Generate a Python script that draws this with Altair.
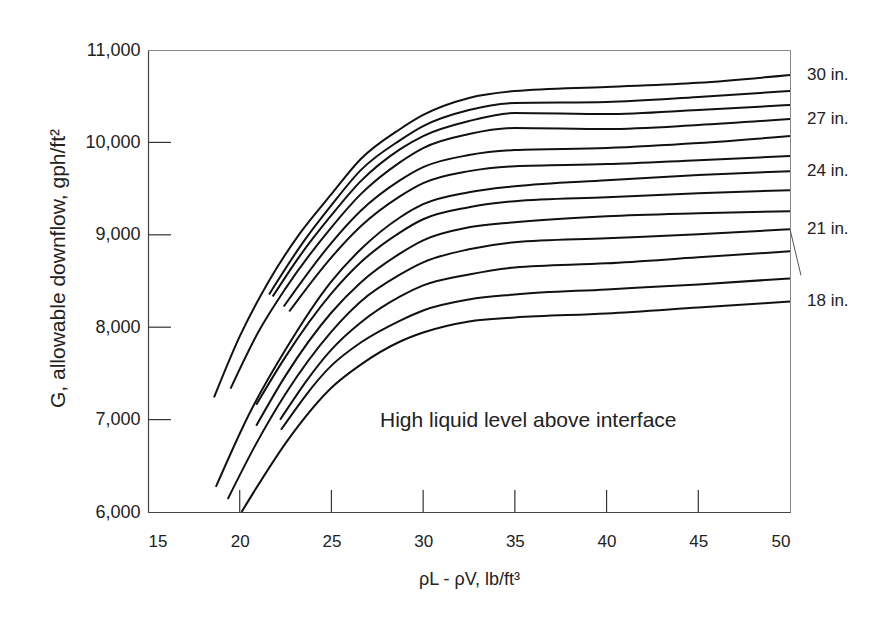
import altair as alt
import pandas as pd

# ---- data ----
# x = rho_L - rho_V (lb/ft3), G = allowable downflow (gph/ft2), one curve per tray spacing
x_30 = [18.6, 20.0, 21.65, 23.3, 25, 26.6, 28.75, 30, 32.5, 35, 40, 45, 50]
g_30 = [7240, 7900, 8520, 9020, 9440, 9820, 10145, 10297, 10481, 10555, 10600, 10645, 10730]

x_29 = [21.6, 23.3, 25, 26.6, 28.75, 30, 32.5, 35, 40, 45, 50]
g_29 = [8354, 8875, 9320, 9700, 10025, 10177, 10351, 10427, 10438, 10492, 10557]

x_28 = [21.8, 23.3, 25, 26.6, 28.75, 30, 32.5, 35, 40, 45, 50]
g_28 = [8333, 8778, 9212, 9581, 9928, 10069, 10231, 10318, 10307, 10351, 10405]

x_27 = [19.5, 21.0, 22.5, 25, 26.6, 28.75, 30, 32.5, 35, 40, 45, 50]
g_27 = [7335, 7942, 8420, 9081, 9440, 9787, 9939, 10090, 10156, 10145, 10188, 10253]

x_26 = [22.4, 25, 26.6, 28.75, 30, 32.5, 35, 40, 45, 50]
g_26 = [8224, 8913, 9260, 9591, 9732, 9863, 9917, 9939, 9993, 10069]

x_25 = [22.7, 25, 26.6, 28.75, 30, 32.5, 35, 40, 45, 50]
g_25 = [8170, 8756, 9092, 9418, 9559, 9689, 9743, 9765, 9808, 9852]

x_24 = [18.7, 20.55, 22.5, 25, 26.6, 28.75, 30, 32.5, 35, 40, 45, 50]
g_24 = [6271, 7074, 7758, 8496, 8843, 9190, 9331, 9461, 9526, 9591, 9646, 9689]

x_23 = [20.9, 22.5, 25, 26.6, 28.75, 30, 32.5, 35, 40, 45, 50]
g_23 = [7161, 7682, 8365, 8702, 9027, 9168, 9298, 9364, 9407, 9450, 9483]

x_22 = [20.9, 22.5, 25, 26.6, 28.75, 30, 32.5, 35, 40, 45, 50]
g_22 = [6933, 7476, 8159, 8485, 8799, 8940, 9081, 9136, 9201, 9233, 9255]

x_21 = [19.35, 20.9, 22.5, 25, 26.6, 28.75, 30, 32.5, 35, 40, 45, 50]
g_21 = [6141, 6740, 7280, 7953, 8279, 8571, 8702, 8843, 8919, 8962, 9005, 9060]

x_20 = [22.2, 25, 26.6, 28.75, 30, 32.5, 35, 40, 45, 50]
g_20 = [6998, 7758, 8051, 8333, 8452, 8571, 8647, 8691, 8756, 8821]

x_19 = [22.25, 25, 26.6, 28.75, 30, 32.5, 35, 40, 45, 50]
g_19 = [6890, 7584, 7834, 8072, 8181, 8300, 8354, 8409, 8463, 8528]

x_18 = [20.1, 22.75, 25, 26.6, 28.75, 30, 32.5, 35, 40, 45, 50]
g_18 = [6000, 6814, 7345, 7595, 7845, 7942, 8062, 8105, 8148, 8213, 8279]

label_text = ["30 in.", "27 in.", "24 in.", "21 in.", "18 in."]
label_x = [50, 50, 50, 50, 50]
label_g = [10730, 10253, 9689, 9060, 8279]

leader_x = [50.0, 50.6]
leader_g = [9060, 8560]

note_text = ["High liquid level above interface"]
note_x = [27.65]
note_g = [6980]

x_ticks = [15, 20, 25, 30, 35, 40, 45, 50]
y_ticks = [6000, 7000, 8000, 9000, 10000, 11000]
x_inner_ticks = [20, 25, 30, 35, 40, 45]
y_inner_ticks = [7000, 8000, 9000, 10000]

curves = {
    30: (x_30, g_30), 29: (x_29, g_29), 28: (x_28, g_28), 27: (x_27, g_27),
    26: (x_26, g_26), 25: (x_25, g_25), 24: (x_24, g_24), 23: (x_23, g_23),
    22: (x_22, g_22), 21: (x_21, g_21), 20: (x_20, g_20), 19: (x_19, g_19),
    18: (x_18, g_18),
}

rows = []
for s, (xs, gs) in curves.items():
    for xv, gv in zip(xs, gs):
        rows.append({"spacing": s, "x": xv, "g": gv})
df = pd.DataFrame(rows)

FONT = "Liberation Sans"
INK = "#222222"

xscale = alt.Scale(domain=[15, 50], nice=False, zero=False)
yscale = alt.Scale(domain=[6000, 11000], nice=False, zero=False)

x_axis = alt.Axis(
    values=x_ticks, title="ρL - ρV, lb/ft³", grid=False, tickSize=0,
    labelPadding=21, titlePadding=21, labelFontSize=17, titleFontSize=18,
    labelFont=FONT, titleFont=FONT, titleFontWeight="normal",
    labelColor=INK, titleColor=INK, domainColor="#444444", domainWidth=1.2)
y_axis = alt.Axis(
    values=y_ticks, labelExpr="format(datum.value, ',')",
    title="G, allowable downflow, gph/ft²", grid=False,
    tickSize=0, labelPadding=8, titlePadding=16, labelFontSize=18, titleFontSize=21,
    titleY=218,
    labelFont=FONT, titleFont=FONT, titleFontWeight="normal",
    labelColor=INK, titleColor=INK, domainColor="#444444", domainWidth=1.2)


def X(field):
    return alt.X(field, scale=xscale, axis=x_axis)


def Y(field):
    return alt.Y(field, scale=yscale, axis=y_axis)


lines = alt.Chart(df).mark_line(color="#111111", strokeWidth=2, interpolate="monotone").encode(
    x=X("x:Q"), y=Y("g:Q"), detail="spacing:N")

xt = alt.Chart(pd.DataFrame({"x": x_inner_ticks})).mark_rule(color="#333333", strokeWidth=1.2).encode(
    x=X("x:Q"), y=alt.value(462), y2=alt.value(440))
yt = alt.Chart(pd.DataFrame({"g": y_inner_ticks})).mark_rule(color="#333333", strokeWidth=1.2).encode(
    y=Y("g:Q"), x=alt.value(0), x2=alt.value(23))

labels = alt.Chart(pd.DataFrame({"x": label_x, "g": label_g, "t": label_text})).mark_text(
    align="left", baseline="middle", dx=17, fontSize=17, font=FONT, color=INK).encode(
    x=X("x:Q"), y=Y("g:Q"), text="t:N")

leader = alt.Chart(pd.DataFrame({"x": leader_x, "g": leader_g})).mark_line(
    color="#555555", strokeWidth=1).encode(x=X("x:Q"), y=Y("g:Q"))

note = alt.Chart(pd.DataFrame({"x": note_x, "g": note_g, "t": note_text})).mark_text(
    align="left", baseline="middle", fontSize=21, font=FONT, color=INK).encode(
    x=X("x:Q"), y=Y("g:Q"), text="t:N")

chart = alt.layer(lines, xt, yt, labels, leader, note).properties(
    width=642, height=462,
    autosize=alt.AutoSizeParams(type="none"),
    padding={"left": 140, "top": 42, "right": 74, "bottom": 100},
    background="white",
).configure_view(stroke="#888888", strokeWidth=1)

chart.save("out.html", embed_options={"renderer": "svg", "actions": False})
